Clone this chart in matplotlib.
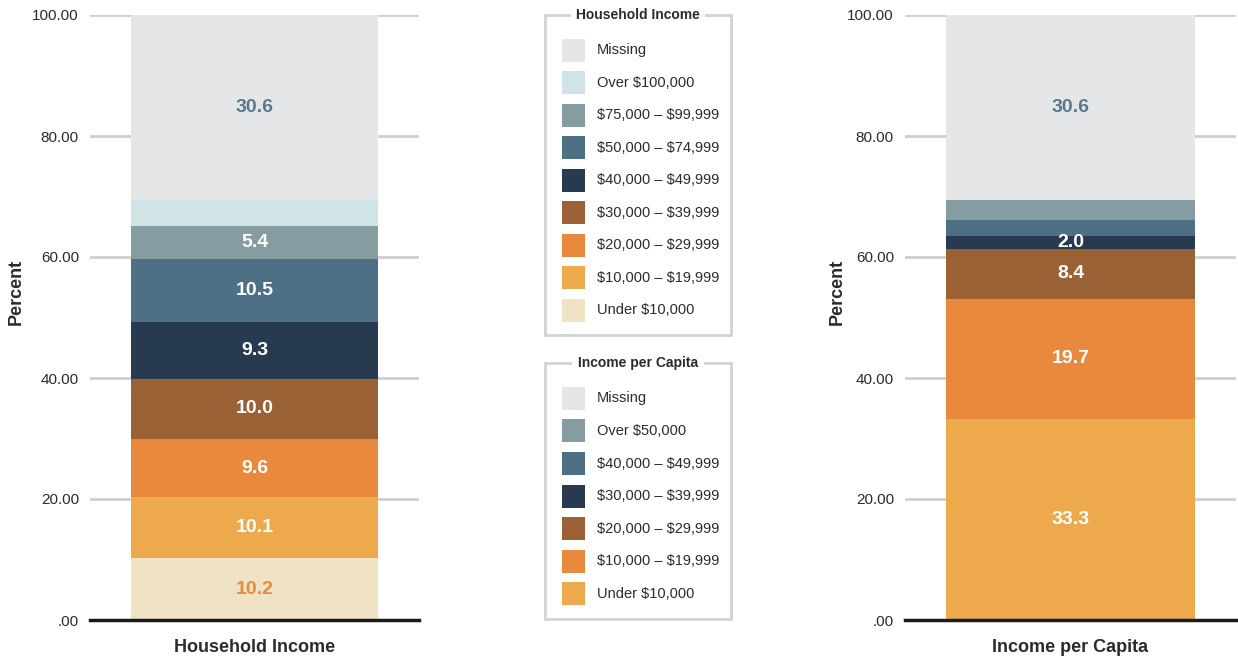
import matplotlib
matplotlib.use('Agg')
import matplotlib.pyplot as plt
from matplotlib.patches import Rectangle

# ---------------- data ----------------
hh_title = "Household Income"
hh_categories = ["Under $10,000", "$10,000 – $19,999", "$20,000 – $29,999",
                 "$30,000 – $39,999", "$40,000 – $49,999", "$50,000 – $74,999",
                 "$75,000 – $99,999", "Over $100,000", "Missing"]
hh_values = [10.2, 10.1, 9.6, 10.0, 9.3, 10.5, 5.4, 4.3, 30.6]
hh_colors = ["#f0e3c5", "#eea94c", "#e8893e", "#9a6135", "#283a50",
             "#4e7085", "#859da0", "#d0e3e6", "#e5e6e8"]
hh_show_label = [True, True, True, True, True, True, True, False, True]
hh_label_colors = ["#e8893e", "white", "white", "white", "white",
                   "white", "white", "white", "#577a8f"]

pc_title = "Income per Capita"
pc_categories = ["Under $10,000", "$10,000 – $19,999", "$20,000 – $29,999",
                 "$30,000 – $39,999", "$40,000 – $49,999", "Over $50,000", "Missing"]
pc_values = [33.3, 19.7, 8.4, 2.0, 2.7, 3.3, 30.6]
pc_colors = ["#eea94c", "#e8893e", "#9a6135", "#283a50", "#4e7085",
             "#859da0", "#e5e6e8"]
pc_show_label = [True, True, True, True, False, False, True]
pc_label_colors = ["white", "white", "white", "white", "white", "white", "#577a8f"]

y_ticks = [0, 20, 40, 60, 80, 100]
y_tick_labels = [".00", "20.00", "40.00", "60.00", "80.00", "100.00"]
y_label = "Percent"

# ---------------- style ----------------
FONT = ['Liberation Sans Narrow', 'Liberation Sans', 'DejaVu Sans']
plt.rcParams['font.family'] = FONT
plt.rcParams['text.parse_math'] = False
TEXT = '#2b2b2b'

W, H = 1238, 658
fig = plt.figure(figsize=(W / 100, H / 100), dpi=100)


def px_axes(x0, y0, x1, y1):
    return fig.add_axes([x0 / W, 1 - y1 / H, (x1 - x0) / W, (y1 - y0) / H])


def stacked(ax, title, values, colors, show, lcolors, ylab_x):
    bottom = 0.0
    for v, c, s, lc in zip(values, colors, show, lcolors):
        bars = ax.bar([0], [v], bottom=bottom, width=0.75, color=c, zorder=2,
                      linewidth=0)
        if s:
            ax.bar_label(bars, labels=[f"{v:.1f}"], label_type='center',
                         color=lc, fontsize=14, fontweight='bold')
        bottom += v
    ax.set_xlim(-0.5, 0.5)
    ax.set_ylim(0, 100)
    ax.set_yticks(y_ticks)
    ax.set_yticklabels(y_tick_labels)
    ax.set_xticks([0])
    ax.set_xticklabels([title], fontsize=13, fontweight='bold', color=TEXT)
    ax.tick_params(axis='y', length=0, pad=8, labelsize=11, labelcolor=TEXT)
    ax.tick_params(axis='x', length=0, pad=14)
    for sp in ax.spines.values():
        sp.set_visible(False)
    ax.yaxis.grid(True, color='#cfcfcf', lw=2)
    ax.set_axisbelow(True)
    ax.axhline(0, color='#1a1a1a', lw=2.5, zorder=3, clip_on=False)
    ax.set_ylabel(y_label, fontsize=13, fontweight='bold', color=TEXT)
    ax.yaxis.set_label_coords(ylab_x, 0.542)


ax1 = px_axes(90, 15, 419, 620)
stacked(ax1, hh_title, hh_values, hh_colors, hh_show_label, hh_label_colors, -0.198)

ax2 = px_axes(905, 15, 1236, 620)
stacked(ax2, pc_title, pc_values, pc_colors, pc_show_label, pc_label_colors, -0.178)


def legend_box(x0, y0, x1, y1, title, cats, colors, first_row, step):
    lax = px_axes(x0 - 2, y0 - 10, x1 + 2, y1 + 2)
    lax.set_xlim(x0 - 2, x1 + 2)
    lax.set_ylim(y1 + 2, y0 - 10)
    lax.axis('off')
    lax.add_patch(Rectangle((x0, y0), x1 - x0, y1 - y0, fill=False,
                            edgecolor='#d3d3d3', lw=2))
    lax.text((x0 + x1) / 2, y0, title, ha='center', va='center', fontsize=10,
             fontweight='bold', color=TEXT,
             bbox=dict(facecolor='white', edgecolor='none', pad=4))
    # legend lists top category first
    for i, (cat, col) in enumerate(zip(reversed(cats), reversed(colors))):
        yc = first_row + i * step
        lax.add_patch(Rectangle((x0 + 17, yc - 11.5), 23, 23, facecolor=col,
                                edgecolor='none'))
        lax.text(x0 + 52, yc, cat, ha='left', va='center', fontsize=10.5,
                 color=TEXT)


legend_box(545, 15, 731, 335, hh_title, hh_categories, hh_colors, 50.3, 32.5)
legend_box(545, 363, 731, 619, pc_title, pc_categories, pc_colors, 398.3, 32.6)

fig.savefig('out.png', dpi=100)
